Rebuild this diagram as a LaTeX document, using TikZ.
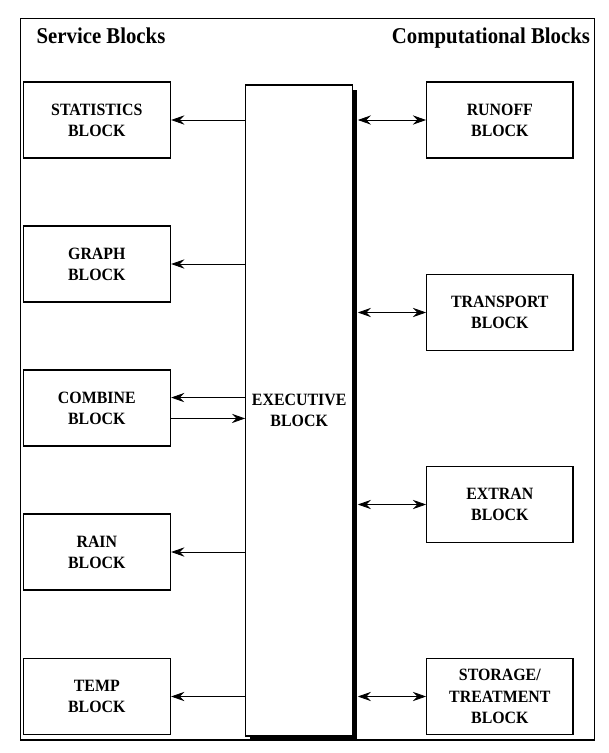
\documentclass[tikz,border=0pt]{standalone}
\usepackage{fontspec}
\setmainfont{Liberation Serif}[FakeStretch=0.92]
\usetikzlibrary{arrows.meta,shadows}

\tikzset{
blk/.style={align=center,rectangle,draw,line width=0.9pt,font=\bfseries\fontsize{13}{16}\selectfont,minimum width=3.9cm,minimum height=2.01cm,inner sep=0pt},
execblk/.style={blk,fill=white,minimum width=2.83cm,minimum height=17.22cm,drop shadow={shadow xshift=0.12cm,shadow yshift=-0.12cm,fill=black,opacity=1}},
head/.style={anchor=base,inner sep=0pt,font=\bfseries\fontsize{17}{20}\selectfont},
conn/.style={>={Stealth[length=10pt,width=7pt,inset=3.5pt]},line width=0.6pt}
}

\begin{document}
\begin{tikzpicture}

\useasboundingbox (0,0) rectangle (16.113,-19.923);
\draw[line width=0.9pt] (0.548,-0.484) rectangle (15.729,-19.579);

\draw(2.672,-1.138) node[head](t1){Service Blocks};
\draw(12.99,-1.138) node[head](t2){Computational Blocks};

% service side
\draw(2.562,-3.175) node[blk](1){STATISTICS\\BLOCK};
\draw(2.562,-6.985) node[blk](2){GRAPH\\BLOCK};
\draw(2.562,-10.795) node[blk](3){COMBINE\\BLOCK};
\draw(2.562,-14.605) node[blk](4){RAIN\\BLOCK};
\draw(2.562,-18.428) node[blk](5){TEMP\\BLOCK};

\draw(7.916,-10.861) node[execblk](6){EXECUTIVE\\BLOCK};
\coordinate (r) at ([xshift=0.12cm]6.east);

% computational side
\draw(13.225,-3.175) node[blk,minimum width=3.87cm](7){RUNOFF\\BLOCK};
\draw(13.225,-8.268) node[blk,minimum width=3.87cm](8){TRANSPORT\\BLOCK};
\draw(13.225,-13.348) node[blk,minimum width=3.87cm](9){EXTRAN\\BLOCK};
\draw(13.225,-18.428) node[blk,minimum width=3.87cm](10){STORAGE/\\TREATMENT\\BLOCK};

\draw [conn,->] (6.west |- 1.east) -- (1.east);
\draw [conn,->] (6.west |- 2.east) -- (2.east);
\draw [conn,->] (6.west |- 3.8) -- (3.8);
\draw [conn,->] (3.352) -- (6.west |- 3.352);
\draw [conn,->] (6.west |- 4.east) -- (4.east);
\draw [conn,->] (6.west |- 5.east) -- (5.east);
\draw [conn,<->] (r |- 7.west) -- (7.west);
\draw [conn,<->] (r |- 8.west) -- (8.west);
\draw [conn,<->] (r |- 9.west) -- (9.west);
\draw [conn,<->] (r |- 10.west) -- (10.west);

\end{tikzpicture}
\end{document}
